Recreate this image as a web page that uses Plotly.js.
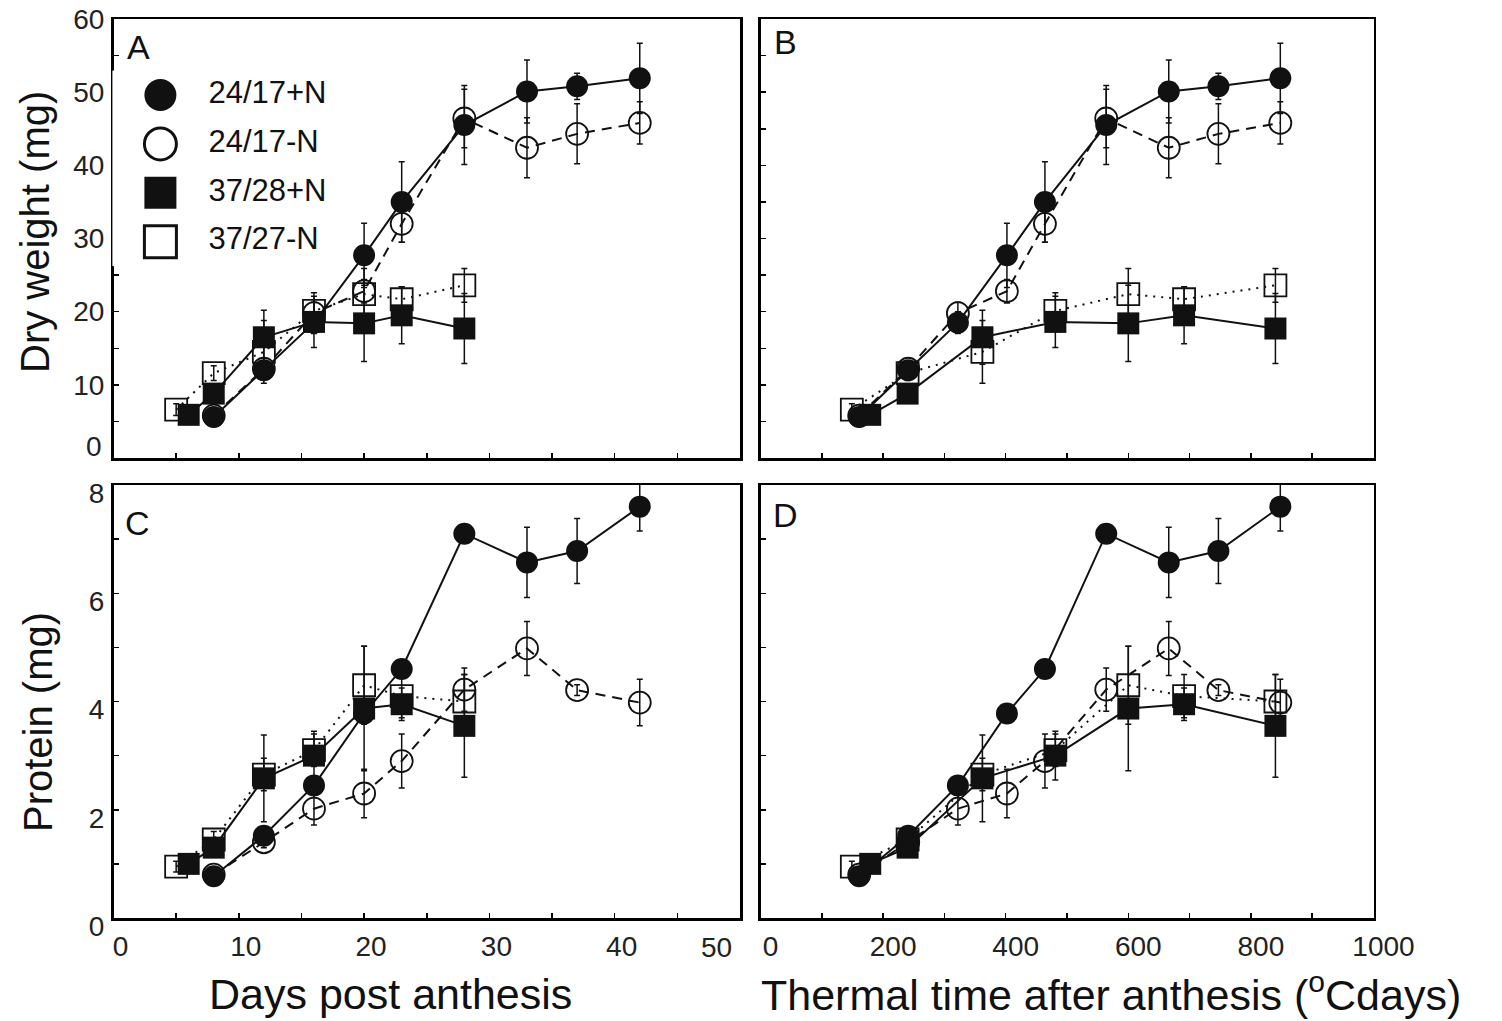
<!DOCTYPE html>
<html>
<head>
<meta charset="utf-8">
<script src="https://cdn.plot.ly/plotly-3.0.1.min.js"></script>
<style>
html,body{margin:0;padding:0;background:#ffffff;}
#chart{width:1502px;height:1021px;}
</style>
</head>
<body>
<div id="chart"></div>
<script>
// ---------------- DATA ----------------
const seriesNames = ['24/17+N', '24/17-N', '37/28+N', '37/27-N'];

// sampling times (days post anthesis and thermal time, oCdays)
const days2417 = [8, 12, 16, 20, 23, 28, 33, 37, 42];
const thermal2417 = [161, 241, 322, 402, 464, 564, 666, 747, 848];
const days3728 = [6, 8, 12, 16, 20, 23, 28];
const thermal3728 = [179, 240, 362, 481, 600, 691, 840];
const days3727 = [5, 8, 12, 16, 20, 23, 28];
const thermal3727 = [149, 240, 362, 481, 600, 691, 840];

// dry weight (mg) and error
const dw2417p = [5.6, 12.0, 18.5, 27.7, 35.0, 45.5, 50.1, 50.8, 51.9];
const dw2417pErr = [0.8, 1.0, 1.5, 4.4, 5.5, 5.4, 4.3, 1.8, 4.8];
const dw2417m = [5.8, 12.2, 19.8, 22.8, 32.0, 46.4, 42.4, 44.3, 45.8];
const dw2417mErr = [0.8, 1.0, 1.5, 1.6, 2.5, 4.0, 4.1, 4.1, 2.9];
const dw3728p = [5.9, 8.8, 16.5, 18.6, 18.4, 19.5, 17.7];
const dw3728pErr = [0.8, 1.2, 3.7, 3.5, 5.2, 3.9, 4.8];
const dw3727m = [6.6, 11.6, 14.5, 20.1, 22.4, 21.7, 23.6];
const dw3727mErr = [0.8, 1.0, 4.3, 2.5, 3.5, 1.7, 2.3];

// protein (mg) and error
const pr2417p = [0.77, 1.52, 2.45, 3.78, 4.6, 7.1, 6.57, 6.78, 7.6];
const pr2417pErr = [0.1, 0.1, 0.15, 0.15, 0.15, 0.1, 0.65, 0.6, 0.45];
const pr2417m = [0.8, 1.4, 2.02, 2.3, 2.9, 4.22, 4.98, 4.21, 3.98];
const pr2417mErr = [0.1, 0.1, 0.3, 0.45, 0.5, 0.4, 0.5, 0.1, 0.43];
const pr3728p = [1.0, 1.3, 2.58, 3.0, 3.87, 3.95, 3.55];
const pr3728pErr = [0.1, 0.15, 0.8, 0.45, 1.15, 0.3, 0.95];
const pr3727m = [0.95, 1.45, 2.65, 3.1, 4.3, 4.1, 4.0];
const pr3727mErr = [0.1, 0.15, 0.3, 0.3, 0.72, 0.4, 0.5];

// tick labels
const xTicksDays = [0, 10, 20, 30, 40, 50];
const xTicksThermal = [0, 200, 400, 600, 800, 1000];
const yTicksDW = [0, 10, 20, 30, 40, 50, 60];
const yTicksPr = [0, 2, 4, 6, 8];

const panelLetters = ['A', 'B', 'C', 'D'];
const xTitleDays = 'Days post anthesis';
const xTitleThermal = 'Thermal time after anthesis (<sup>o</sup>Cdays)';
const yTitleDW = 'Dry weight (mg)';
const yTitlePr = 'Protein (mg)';

// ---------------- STYLE / BUILD ----------------
const W = 1502, H = 1021;
const FONT = 'Liberation Sans, Arial, Helvetica, sans-serif';
const INK = '#111111';
const TICKINK = '#222222';
const px = p => p / W;
const py = p => 1 - p / H;

const series = [
  {name: seriesNames[3], days: days3727, tt: thermal3727, dw: dw3727m, dwE: dw3727mErr, pr: pr3727m, prE: pr3727mErr, symbol: 'square-open', dash: '2px,6px'},
  {name: seriesNames[2], days: days3728, tt: thermal3728, dw: dw3728p, dwE: dw3728pErr, pr: pr3728p, prE: pr3728pErr, symbol: 'square', dash: 'solid'},
  {name: seriesNames[1], days: days2417, tt: thermal2417, dw: dw2417m, dwE: dw2417mErr, pr: pr2417m, prE: pr2417mErr, symbol: 'circle-open', dash: '10px,7px'},
  {name: seriesNames[0], days: days2417, tt: thermal2417, dw: dw2417p, dwE: dw2417pErr, pr: pr2417p, prE: pr2417pErr, symbol: 'circle', dash: 'solid'}
];

const panels = [
  {xa: 'x', ya: 'y', xk: 'days', yk: 'dw', ek: 'dwE'},
  {xa: 'x2', ya: 'y2', xk: 'tt', yk: 'dw', ek: 'dwE'},
  {xa: 'x3', ya: 'y3', xk: 'days', yk: 'pr', ek: 'prE'},
  {xa: 'x4', ya: 'y4', xk: 'tt', yk: 'pr', ek: 'prE'}
];

const traces = [];
panels.forEach(p => {
  series.forEach(s => {
    const open = s.symbol.indexOf('open') >= 0;
    traces.push({
      type: 'scatter', mode: 'lines+markers',
      x: s[p.xk], y: s[p.yk], xaxis: p.xa, yaxis: p.ya,
      name: s.name, showlegend: false, cliponaxis: false,
      line: {color: INK, width: 2, dash: s.dash},
      marker: {symbol: s.symbol, size: 22, color: INK, line: {color: INK, width: open ? 1.8 : 0}},
      error_y: {type: 'data', array: s[p.ek], visible: true, color: INK, thickness: 1.5, width: 3}
    });
  });
});

// legend drawn inside panel A, one row per series
const legendOrder = [3, 2, 1, 0].map(i => series[i]);
traces.push({
  type: 'scatter', mode: 'markers', xaxis: 'x5', yaxis: 'y5', showlegend: false, cliponaxis: false,
  x: legendOrder.map(() => 0), y: legendOrder.map((_, i) => i),
  marker: {
    symbol: legendOrder.map(s => s.symbol), size: 32, color: INK,
    line: {color: INK, width: legendOrder.map(s => s.symbol.indexOf('open') >= 0 ? 3 : 0)}
  },
  hoverinfo: 'skip'
});
traces.push({
  type: 'scatter', mode: 'text', xaxis: 'x5', yaxis: 'y5', showlegend: false, cliponaxis: false,
  x: legendOrder.map(() => 1), y: legendOrder.map((_, i) => i),
  text: legendOrder.map(s => s.name), textposition: 'middle right',
  textfont: {family: FONT, size: 31, color: INK},
  hoverinfo: 'skip'
});

const xDomL = [px(113.5), px(740)];
const xDomR = [px(760.5), px(1373.5)];
const yDomT = [py(458), py(19)];
const yDomB = [py(918), py(485)];

function axis(extra) {
  return Object.assign({
    showline: true, mirror: true, linecolor: '#000', linewidth: 2.5,
    ticks: 'inside', ticklen: 5, tickwidth: 1.5, tickcolor: '#000',
    showgrid: false, zeroline: false, fixedrange: true,
    tickfont: {family: FONT, size: 28, color: TICKINK}
  }, extra);
}
const minorTick = d => ({dtick: d, ticks: 'inside', ticklen: 5, tickwidth: 1.5, tickcolor: '#000', showgrid: false});
// ticks whose label sits on a frame corner are drawn as separate nudged texts
const yTicksDWInner = yTicksDW.filter(v => v !== yTicksDW[0]);
const xTicksDaysInner = xTicksDays.filter(v => v !== xTicksDays[xTicksDays.length - 1]);

const layout = {
  width: W, height: H,
  margin: {l: 0, r: 0, t: 0, b: 0},
  paper_bgcolor: '#ffffff', plot_bgcolor: '#ffffff',
  showlegend: false,
  xaxis: axis({domain: xDomL, anchor: 'y', range: [0, 50], tickmode: 'array', tickvals: xTicksDays, minor: minorTick(5), showticklabels: false}),
  yaxis: axis({domain: yDomT, anchor: 'x', range: [0, 60], tickmode: 'array', tickvals: yTicksDWInner, ticktext: yTicksDWInner.map(String), minor: minorTick(5), ticklabelstandoff: 1}),
  xaxis2: axis({domain: xDomR, anchor: 'y2', range: [0, 1000], tickmode: 'array', tickvals: xTicksThermal, minor: minorTick(100), showticklabels: false}),
  yaxis2: axis({domain: yDomT, anchor: 'x2', range: [0, 60], tickmode: 'array', tickvals: yTicksDW, minor: minorTick(5), showticklabels: false}),
  xaxis3: axis({domain: xDomL, anchor: 'y3', range: [0, 50], tickmode: 'array', tickvals: xTicksDaysInner, ticktext: xTicksDaysInner.map(String), minor: minorTick(5), ticklabelshift: 7, ticklabelstandoff: 2}),
  yaxis3: axis({domain: yDomB, anchor: 'x3', range: [0, 8], tickmode: 'array', tickvals: yTicksPr, ticktext: yTicksPr.map(String), minor: minorTick(1), ticklabelshift: 8, ticklabelstandoff: 1}),
  xaxis4: axis({domain: xDomR, anchor: 'y4', range: [0, 1000], tickmode: 'array', tickvals: xTicksThermal, ticktext: xTicksThermal.map(String), minor: minorTick(100), ticklabelshift: 10, ticklabelstandoff: 2}),
  yaxis4: axis({domain: yDomB, anchor: 'x4', range: [0, 8], tickmode: 'array', tickvals: yTicksPr, minor: minorTick(1), showticklabels: false}),
  xaxis5: {domain: [px(112.4), px(256.4)], range: [-1, 2], visible: false, fixedrange: true},
  yaxis5: {domain: [py(266.15), py(70.55)], range: [3.5, -0.5], visible: false, fixedrange: true},
  annotations: [
    // edge tick labels placed like the reference (nudged inward from the frame corners)
    {text: String(yTicksDW[0]), xref: 'paper', yref: 'y', x: px(104), y: yTicksDW[0], yshift: 12, showarrow: false, xanchor: 'right', yanchor: 'middle', font: {family: FONT, size: 28, color: TICKINK}},
    {text: String(xTicksDays[xTicksDays.length - 1]), xref: 'x3', yref: 'paper', x: xTicksDays[xTicksDays.length - 1], xshift: -24, y: py(947), showarrow: false, xanchor: 'center', yanchor: 'middle', font: {family: FONT, size: 28, color: TICKINK}},
    // axis titles
    {text: yTitleDW, xref: 'paper', yref: 'paper', x: px(35), y: py(232), textangle: -90, showarrow: false, xanchor: 'center', yanchor: 'middle', font: {family: FONT, size: 40, color: INK}},
    {text: yTitlePr, xref: 'paper', yref: 'paper', x: px(38), y: py(722), textangle: -90, showarrow: false, xanchor: 'center', yanchor: 'middle', font: {family: FONT, size: 40, color: INK}},
    {text: xTitleDays, xref: 'paper', yref: 'paper', x: px(390), y: py(994), showarrow: false, xanchor: 'center', yanchor: 'middle', font: {family: FONT, size: 43, color: INK}},
    {text: xTitleThermal, xref: 'paper', yref: 'paper', x: px(1111), y: py(992), showarrow: false, xanchor: 'center', yanchor: 'middle', font: {family: FONT, size: 43, color: INK}},
    // panel letters
    {text: panelLetters[0], xref: 'paper', yref: 'paper', x: px(138), y: py(47), showarrow: false, xanchor: 'center', yanchor: 'middle', font: {family: FONT, size: 34, color: INK}},
    {text: panelLetters[1], xref: 'paper', yref: 'paper', x: px(786), y: py(42), showarrow: false, xanchor: 'center', yanchor: 'middle', font: {family: FONT, size: 34, color: INK}},
    {text: panelLetters[2], xref: 'paper', yref: 'paper', x: px(137), y: py(523), showarrow: false, xanchor: 'center', yanchor: 'middle', font: {family: FONT, size: 34, color: INK}},
    {text: panelLetters[3], xref: 'paper', yref: 'paper', x: px(785), y: py(515), showarrow: false, xanchor: 'center', yanchor: 'middle', font: {family: FONT, size: 34, color: INK}}
  ]
};

Plotly.newPlot('chart', traces, layout, {displayModeBar: false, staticPlot: true});
</script>
</body>
</html>
